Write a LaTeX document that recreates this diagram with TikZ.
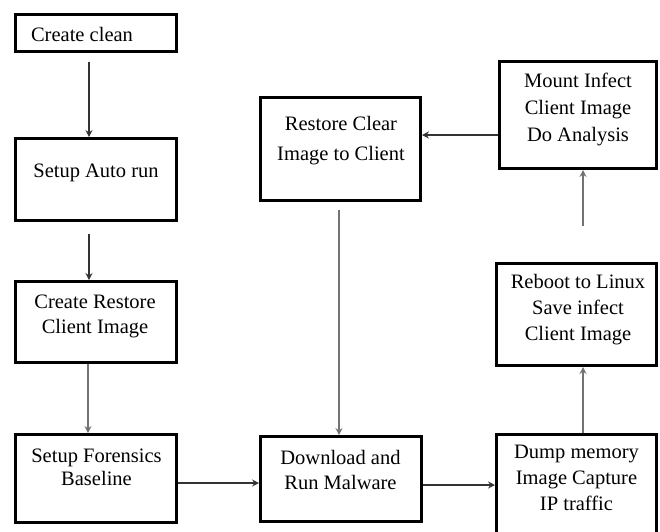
\documentclass[tikz,border=0pt]{standalone}
\usepackage{fontspec}
\setmainfont{Liberation Serif}
\usetikzlibrary{arrows.meta}
\tikzset{
  box/.style={draw=black, line width=3pt, rectangle, inner sep=0pt, fill=white},
  lbl/.style={anchor=base, inner sep=0pt, font=\fontsize{20.5}{#1}\selectfont},
  lbl/.default=25,
  arr/.style={draw=black!80, line width=1.2pt, -{Stealth[length=7pt,width=7pt,inset=2.5pt]}},
  arrg/.style={draw=black!55, line width=1.4pt, -{Stealth[length=7pt,width=7pt,inset=2.5pt]}}
}
\newcommand{\ml}[1]{\begin{tabular}[t]{@{}c@{}}#1\end{tabular}}
\begin{document}
\begin{tikzpicture}[x=1pt,y=-1pt]
\useasboundingbox (0,0) rectangle (660,531);
% boxes
\node[box, minimum width=161pt, minimum height=37pt] (b1) at (96,33) {};
\node[box, minimum width=161pt, minimum height=82pt] (b2) at (96,179.5) {};
\node[box, minimum width=161pt, minimum height=81pt] (b3) at (96,322) {};
\node[box, minimum width=161pt, minimum height=88pt] (b4) at (96,478.5) {};
\node[box, minimum width=161pt, minimum height=85pt] (b5) at (341,479) {};
\node[box, minimum width=160pt, minimum height=124pt] (b6) at (576.5,496.5) {};
\node[box, minimum width=160pt, minimum height=102pt] (b7) at (576.5,314.5) {};
\node[box, minimum width=157pt, minimum height=107pt] (b8) at (578,115) {};
\node[box, minimum width=160pt, minimum height=103pt] (b9) at (340.5,149) {};
% texts
\node[lbl] (t1) at (82,41) {Create clean};
\node[lbl] (t2) at (96,177) {Setup Auto run};
\node[lbl] (t3) at (95,308) {\ml{Create Restore\\Client Image}};
\node[lbl=23] (t4) at (96.5,462) {\ml{Setup Forensics\\Baseline}};
\node[lbl] (t5) at (340.5,464) {\ml{Download and\\Run Malware}};
\node[lbl=26] (t6) at (576.5,458) {\ml{Dump memory\\Image Capture\\IP traffic}};
\node[lbl=26] (t7) at (578,288) {\ml{Reboot to Linux\\Save infect\\Client Image}};
\node[lbl=27] (t8) at (578,87) {\ml{Mount Infect\\Client Image\\Do Analysis}};
\node[lbl=30] (t9) at (341,130) {\ml{Restore Clear\\Image to Client}};
% connectors
\draw[arr] ([xshift=-7pt,yshift=-8.5pt]b1.south) -- ([xshift=-7pt]b2.north);
\draw[arr] ([xshift=-7pt,yshift=-11.5pt]b2.south) -- ([xshift=-7pt]b3.north);
\draw[arrg] ([xshift=-8pt]b3.south) -- ([xshift=-8pt]b4.north);
\draw[arr] ([yshift=-4.5pt]b4.east) -- ([yshift=-4.5pt]b4.east -| b5.west);
\draw[arr] ([yshift=-6pt]b5.east) -- ([yshift=-6pt]b5.east -| b6.west);
\draw[arrg] ([xshift=6.5pt]b6.north) -- ([xshift=6.5pt]b6.north |- b7.south);
\draw[arrg] ([xshift=6.5pt,yshift=36.5pt]b7.north) -- ([xshift=6.5pt]b7.north |- b8.south);
\draw[arr] ([yshift=-20pt]b8.west) -- ([yshift=-20pt]b8.west -| b9.east);
\draw[arrg] ([xshift=-1.5pt,yshift=-7.5pt]b9.south) -- ([xshift=-2pt]b5.north);
\end{tikzpicture}
\end{document}
